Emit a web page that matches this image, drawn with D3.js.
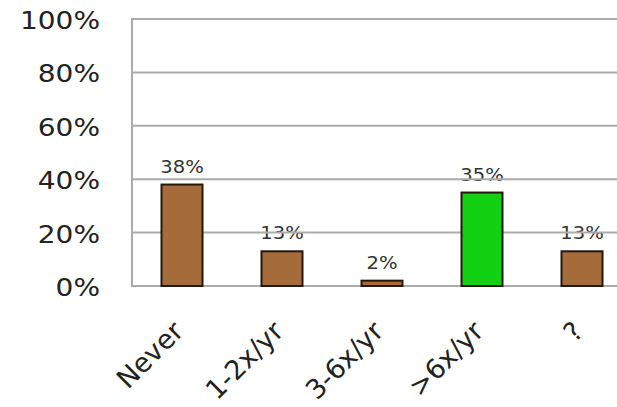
<!DOCTYPE html>
<html>
<head>
<meta charset="utf-8">
<script src="https://cdn.jsdelivr.net/npm/d3@7"></script>
<style>
  html, body { margin: 0; padding: 0; background: #fff; }
  svg { display: block; }
  text { font-family: "DejaVu Sans", Verdana, sans-serif; }
</style>
</head>
<body>
<svg id="chart" width="617" height="407"></svg>
<script>
// Survey frequency responses (percent of respondents)
const categories = ["Never", "1-2x/yr", "3-6x/yr", ">6x/yr", "?"];
const values = [38, 13, 2, 35, 13];
const barColors = ["#a66b3b", "#a66b3b", "#a66b3b", "#12d012", "#a66b3b"];
const yTicks = [0, 20, 40, 60, 80, 100];

const svg = d3.select("#chart");
const W = 617, H = 407;
const plot = { left: 132, right: 632, top: 19, bottom: 286 };

const x = d3.scaleBand()
  .domain(categories)
  .range([plot.left, plot.right])
  .paddingInner(0.59)
  .paddingOuter(0.295);

const y = d3.scaleLinear()
  .domain([0, 100])
  .range([plot.bottom, plot.top]);

// value labels (drawn first so gridlines pass over them)
svg.append("g")
  .selectAll("text")
  .data(values)
  .join("text")
  .attr("transform", (d, i) =>
    `translate(${x(categories[i]) + x.bandwidth() / 2},${y(d) - 12}) scale(1.15,1)`)
  .attr("text-anchor", "middle")
  .attr("font-size", 17)
  .attr("fill", "#333")
  .text(d => d + "%");

// horizontal gridlines
svg.append("g")
  .selectAll("line")
  .data(yTicks)
  .join("line")
  .attr("x1", plot.left)
  .attr("x2", W)
  .attr("y1", d => y(d))
  .attr("y2", d => y(d))
  .attr("stroke", "#ababab")
  .attr("stroke-width", 2);

// left axis line
svg.append("line")
  .attr("x1", plot.left).attr("x2", plot.left)
  .attr("y1", plot.top - 1).attr("y2", plot.bottom + 1)
  .attr("stroke", "#ababab")
  .attr("stroke-width", 2);

// y tick labels
const yAxis = d3.axisLeft(y)
  .tickValues(yTicks)
  .tickFormat(d => d + "%")
  .tickSize(0)
  .tickPadding(0);
const gy = svg.append("g")
  .call(yAxis);
gy.select(".domain").remove();
gy.selectAll(".tick")
  .attr("transform", d => `translate(100,${y(d)}) scale(1.12,1)`);
gy.selectAll("text")
  .attr("x", 0)
  .attr("font-size", 25)
  .attr("fill", "#222")
  .attr("dy", "0.4em")
  .style("font-family", "'DejaVu Sans', Verdana, sans-serif");

// bars
svg.append("g")
  .selectAll("rect")
  .data(values)
  .join("rect")
  .attr("x", (d, i) => x(categories[i]))
  .attr("y", d => y(d))
  .attr("width", x.bandwidth())
  .attr("height", d => y(0) - y(d))
  .attr("fill", (d, i) => barColors[i])
  .attr("stroke", "#24170c")
  .attr("stroke-width", 2);

// rotated category labels
const xAxis = d3.axisBottom(x).tickSize(0).tickPadding(0);
const gx = svg.append("g")
  .attr("transform", `translate(0,${plot.bottom})`)
  .call(xAxis);
gx.select(".domain").remove();
gx.selectAll("text")
  .attr("font-size", 27)
  .attr("fill", "#222")
  .attr("text-anchor", "end")
  .attr("dy", "0")
  .attr("y", 0)
  .attr("transform", "translate(3,47) rotate(-45)")
  .style("font-family", "'DejaVu Sans', Verdana, sans-serif");
</script>
</body>
</html>
